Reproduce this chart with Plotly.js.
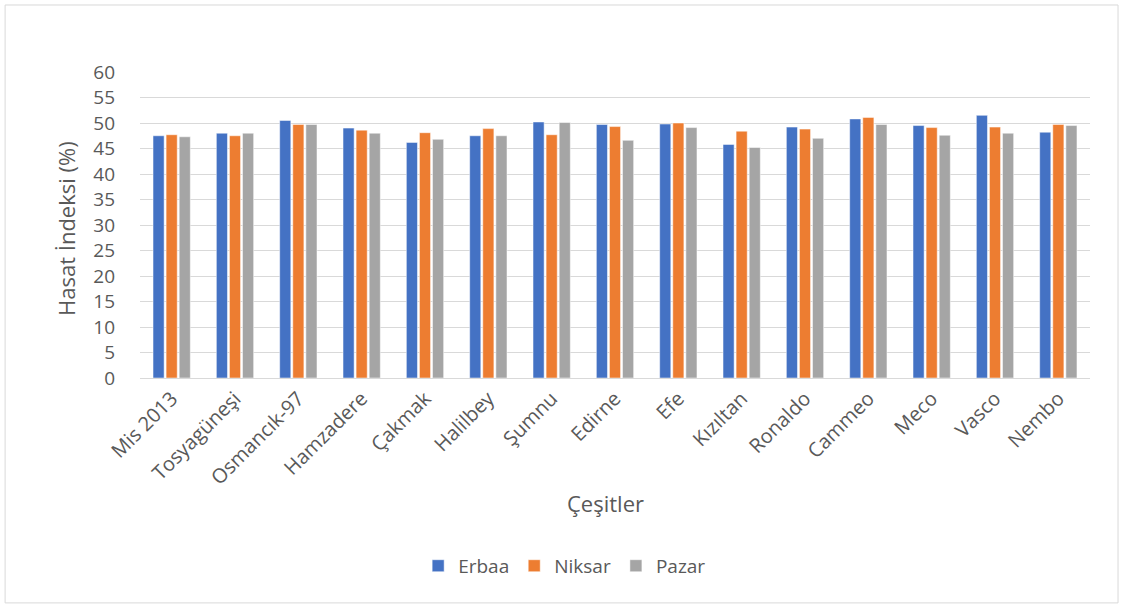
<!DOCTYPE html>
<html>
<head>
<meta charset="utf-8">
<script src="https://cdn.plot.ly/plotly-3.0.1.min.js"></script>
<style>
  html, body { margin: 0; padding: 0; background: #ffffff; }
  #chart { width: 1125px; height: 607px; }
</style>
</head>
<body>
<div id="chart"></div>
<script>
// Harvest index (%) of rice cultivars at three locations
const cultivars = ["Mis 2013", "Tosyagüneşi", "Osmancık-97", "Hamzadere", "Çakmak", "Halilbey", "Şumnu",
                   "Edirne", "Efe", "Kızıltan", "Ronaldo", "Cammeo", "Meco", "Vasco", "Nembo"];
const erbaa  = [47.5, 48.0, 50.5, 49.0, 46.2, 47.5, 50.2, 49.7, 49.8, 45.8, 49.2, 50.8, 49.5, 51.5, 48.2];
const niksar = [47.7, 47.5, 49.7, 48.6, 48.1, 48.9, 47.7, 49.3, 50.0, 48.4, 48.8, 51.1, 49.1, 49.2, 49.7];
const pazar  = [47.3, 48.0, 49.7, 48.0, 46.8, 47.5, 50.1, 46.6, 49.1, 45.2, 47.0, 49.7, 47.6, 48.0, 49.5];
const yTicks = [0, 5, 10, 15, 20, 25, 30, 35, 40, 45, 50, 55, 60];

const FONT = "'Open Sans', 'Noto Sans', sans-serif";
const TEXT = "#595959";

function series(name, values, color) {
  return {
    type: "bar", name: name, x: cultivars, y: values,
    marker: { color: color, line: { color: "#ffffff", width: 0.5 } },
    hoverinfo: "x+y+name"
  };
}

const data = [
  series("Erbaa", erbaa, "#4472c4"),
  series("Niksar", niksar, "#ed7d31"),
  series("Pazar", pazar, "#a5a5a5")
];

const layout = {
  width: 1125, height: 607,
  margin: { l: 140, r: 35, t: 72, b: 229 },
  paper_bgcolor: "#ffffff", plot_bgcolor: "#ffffff",
  font: { family: FONT, color: TEXT },
  barmode: "group", bargap: 0.38, bargroupgap: 0.15,
  showlegend: true,
  legend: {
    orientation: "h", x: 0.447, xanchor: "center", y: -0.614, yanchor: "middle",
    font: { size: 19, color: TEXT, family: FONT }, itemwidth: 30, traceorder: "normal"
  },
  xaxis: {
    type: "category", tickangle: -45, tickfont: { size: 20, color: TEXT },
    showgrid: false, showline: true, linecolor: "#d9d9d9", linewidth: 1,
    ticks: "", automargin: false
  },
  yaxis: {
    range: [0, 60], tickvals: yTicks, ticktext: yTicks.map(String),
    tickfont: { size: 19, color: TEXT }, showgrid: true, gridcolor: "#d9d9d9", gridwidth: 1,
    zeroline: false, showline: false, ticks: "", ticklabelstandoff: 24, automargin: false
  },
  annotations: [
    { text: "Hasat İndeksi (%)", xref: "paper", yref: "paper", x: -0.078, y: 0.49,
      xanchor: "center", yanchor: "middle", textangle: -90, showarrow: false,
      font: { size: 22, color: TEXT, family: FONT } },
    { text: "Çeşitler", xref: "paper", yref: "paper", x: 0.49, y: -0.41,
      xanchor: "center", yanchor: "middle", showarrow: false,
      font: { size: 22, color: TEXT, family: FONT } }
  ],
  shapes: [
    { type: "rect", xref: "paper", yref: "paper", x0: -0.142, x1: 1.0295, y0: -0.735, y1: 1.219,
      line: { color: "#d9d9d9", width: 1 }, fillcolor: "rgba(0,0,0,0)", layer: "below" }
  ]
};

Plotly.newPlot("chart", data, layout, { displayModeBar: false, staticPlot: true });
</script>
</body>
</html>
